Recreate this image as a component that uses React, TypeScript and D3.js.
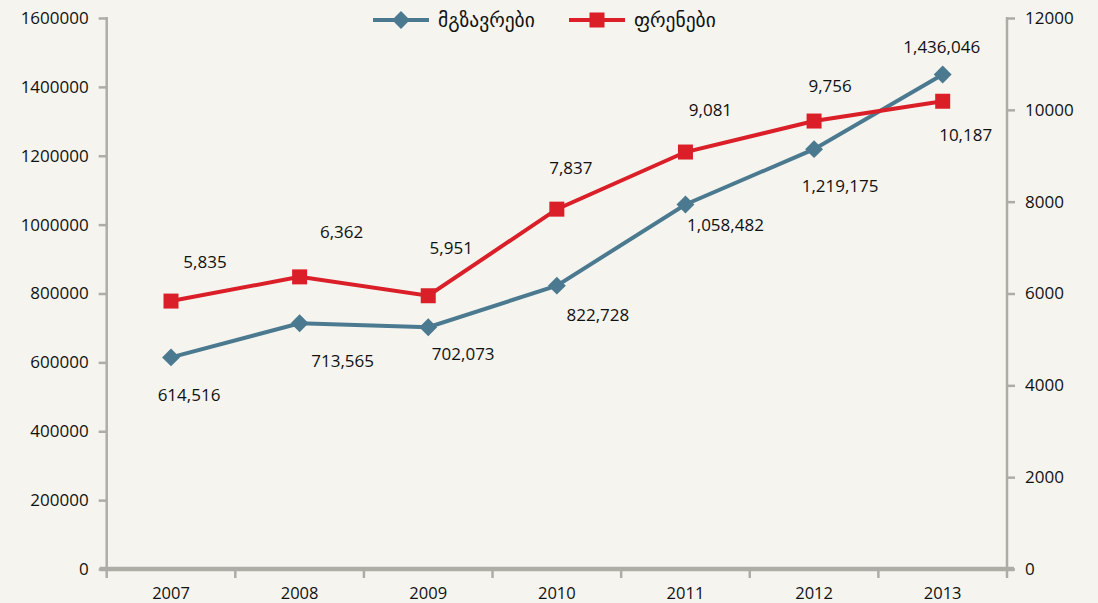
import { useEffect, useRef } from "react";
import * as d3 from "d3";

// chart data
const years = ["2007", "2008", "2009", "2010", "2011", "2012", "2013"];
const passengers = [614516, 713565, 702073, 822728, 1058482, 1219175, 1436046];
const flights = [5835, 6362, 5951, 7837, 9081, 9756, 10187];
const leftTicks = [0, 200000, 400000, 600000, 800000, 1000000, 1200000, 1400000, 1600000];
const rightTicks = [0, 2000, 4000, 6000, 8000, 10000, 12000];
const seriesNames = ["მგზავრები", "ფრენები"];

// label offsets (px) relative to each point
const passLabelOffset: [number, number][] = [
  [18, 38], [43, 38], [35, 27], [41, 29], [40, 21], [26, 37], [-1, -27],
];
const flightLabelOffset: [number, number][] = [
  [34, -39], [42, -45], [23, -48], [14, -41], [25, -42], [16, -35], [23, 34],
];

const W = 1098;
const H = 603;
const BLUE = "#4b7a90";
const RED = "#da1f29";
const AXIS = "#aeada5";
const FONT = "'Open Sans', 'DejaVu Sans', sans-serif";

export default function App() {
  const ref = useRef<SVGSVGElement>(null);

  useEffect(() => {
    const svg = d3.select(ref.current);
    svg.selectAll("*").remove();

    const left = 106.7;
    const right = 1007;
    const top = 18;
    const bottom = 569;

    const x = d3.scaleBand().domain(years).range([left, right]);
    const cx = (d: string) => (x(d) as number) + x.bandwidth() / 2;
    const yL = d3.scaleLinear().domain([0, 1600000]).range([bottom, top]);
    const yR = d3.scaleLinear().domain([0, 12000]).range([bottom, top]);

    svg.append("rect").attr("width", W).attr("height", H).attr("fill", "#f5f4ef");

    // left axis
    const gl = svg.append("g").attr("transform", `translate(${left},0)`)
      .call(d3.axisLeft(yL).tickValues(leftTicks).tickFormat(d3.format("d")).tickSize(8).tickPadding(10));
    gl.select(".domain").remove();
    gl.selectAll("line").attr("stroke", AXIS).attr("stroke-width", 2.5);
    gl.selectAll("text").attr("font-family", FONT).attr("font-size", 17).attr("fill", "#111");
    svg.append("line").attr("x1", left).attr("x2", left).attr("y1", top - 1).attr("y2", bottom + 9)
      .attr("stroke", AXIS).attr("stroke-width", 2.5);

    // right axis
    const gr = svg.append("g").attr("transform", `translate(${right},0)`)
      .call(d3.axisRight(yR).tickValues(rightTicks).tickFormat(d3.format("d")).tickSize(8).tickPadding(10));
    gr.select(".domain").remove();
    gr.selectAll("line").attr("stroke", AXIS).attr("stroke-width", 2.5);
    gr.selectAll("text").attr("font-family", FONT).attr("font-size", 17).attr("fill", "#111");
    svg.append("line").attr("x1", right).attr("x2", right).attr("y1", top - 1).attr("y2", bottom + 9)
      .attr("stroke", AXIS).attr("stroke-width", 2.5);

    // bottom axis
    svg.append("line").attr("x1", left - 7).attr("x2", right + 7).attr("y1", bottom).attr("y2", bottom)
      .attr("stroke", AXIS).attr("stroke-width", 4.5);
    svg.append("g").selectAll("line").data(years.slice(1)).join("line")
      .attr("x1", (d) => x(d) as number).attr("x2", (d) => x(d) as number)
      .attr("y1", bottom).attr("y2", bottom + 9)
      .attr("stroke", AXIS).attr("stroke-width", 2.5);
    svg.append("g").selectAll("text").data(years).join("text")
      .attr("x", cx).attr("y", bottom + 30).attr("text-anchor", "middle")
      .attr("font-family", FONT).attr("font-size", 16.5).attr("fill", "#111").text((d) => d);

    const diamond = d3.symbol().type(d3.symbolSquare).size(160);
    const square = d3.symbol().type(d3.symbolSquare).size(225);

    // passengers
    const lineP = d3.line<number>().x((_, i) => cx(years[i])).y((d) => yL(d));
    svg.append("path").datum(passengers).attr("d", lineP).attr("fill", "none")
      .attr("stroke", BLUE).attr("stroke-width", 4);
    svg.append("g").selectAll("path").data(passengers).join("path")
      .attr("d", diamond).attr("fill", BLUE)
      .attr("transform", (d, i) => `translate(${cx(years[i])},${yL(d)}) rotate(45)`);

    // flights
    const lineF = d3.line<number>().x((_, i) => cx(years[i])).y((d) => yR(d));
    svg.append("path").datum(flights).attr("d", lineF).attr("fill", "none")
      .attr("stroke", RED).attr("stroke-width", 4);
    svg.append("g").selectAll("path").data(flights).join("path")
      .attr("d", square).attr("fill", RED)
      .attr("transform", (d, i) => `translate(${cx(years[i])},${yR(d)})`);

    const fmt = d3.format(",");
    svg.append("g").selectAll("text").data(passengers).join("text")
      .attr("x", (d, i) => cx(years[i]) + passLabelOffset[i][0])
      .attr("y", (d, i) => yL(d) + passLabelOffset[i][1] + 6)
      .attr("text-anchor", "middle").attr("font-family", FONT).attr("font-size", 17).attr("fill", "#111")
      .text((d) => fmt(d));
    svg.append("g").selectAll("text").data(flights).join("text")
      .attr("x", (d, i) => cx(years[i]) + flightLabelOffset[i][0])
      .attr("y", (d, i) => yR(d) + flightLabelOffset[i][1] + 6)
      .attr("text-anchor", "middle").attr("font-family", FONT).attr("font-size", 17).attr("fill", "#111")
      .text((d) => fmt(d));

    // legend
    const lg = svg.append("g");
    const items = [
      { name: seriesNames[0], color: BLUE, sym: diamond, rot: 45, x0: 373 },
      { name: seriesNames[1], color: RED, sym: square, rot: 0, x0: 569 },
    ];
    items.forEach((it) => {
      lg.append("line").attr("x1", it.x0).attr("x2", it.x0 + 56).attr("y1", 20).attr("y2", 20)
        .attr("stroke", it.color).attr("stroke-width", 4);
      lg.append("path").attr("d", it.sym).attr("fill", it.color)
        .attr("transform", `translate(${it.x0 + 28},20) rotate(${it.rot})`);
      lg.append("text").attr("x", it.x0 + 65).attr("y", 27).attr("font-family", FONT)
        .attr("font-size", 19.5).attr("fill", "#111").text(it.name);
    });
  }, []);

  return (
    <svg ref={ref} width={W} height={H} style={{ position: "absolute", left: 0, top: 0, display: "block" }} />
  );
}
